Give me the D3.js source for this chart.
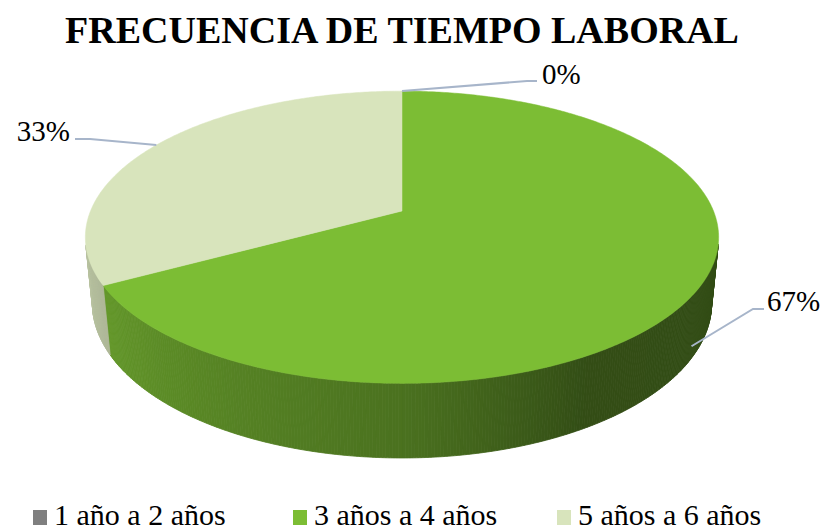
<!DOCTYPE html>
<html>
<head>
<meta charset="utf-8">
<script src="https://cdn.jsdelivr.net/npm/d3@7"></script>
<style>
  body { margin: 0; background: #fff; }
</style>
</head>
<body>
<div id="chart"></div>
<script>
// Data
const categories = ["1 año a 2 años", "3 años a 4 años", "5 años a 6 años"];
const values = [0, 67, 33];
const pctLabels = ["0%", "67%", "33%"];
const colors = ["#7f7f7f", "#7cbd34", "#d8e4bc"];

const width = 825, height = 532;
const fontSerif = "'Times New Roman', Times, Tinos, 'Liberation Serif', 'DejaVu Serif', 'Noto Serif', serif";

// 3D projection settings (disk radius 1)
const cx = 402, cy = 211, f = 1545, D = 4.96, tilt = 27 * Math.PI / 180, depthH = 0.24;
const s = Math.sin(tilt), c = Math.cos(tilt);

function proj(theta, y) {
    const X = Math.sin(theta), Z = -Math.cos(theta);
    const dep = D - y * s - Z * c;
    const sy = y * c - Z * s;
    return [cx + f * X / dep, cy - f * sy / dep];
}

const svg = d3.select("#chart")
    .append("svg")
    .attr("width", width)
    .attr("height", height)
    .style("font-family", fontSerif);

// Title
svg.append("text")
    .attr("x", 402)
    .attr("y", 43)
    .attr("text-anchor", "middle")
    .attr("font-size", 38)
    .attr("font-weight", "bold")
    .text("FRECUENCIA DE TIEMPO LABORAL");

const pie = d3.pie().sort(null).startAngle(0).endAngle(2 * Math.PI);
const arcs = pie(values).map((d, i) => ({ ...d, i }));

// side shading by angle
const shade = d3.scaleLinear()
    .domain([262, 180, 150, 100].map(a => a * Math.PI / 180))
    .range([0.87, 0.6, 0.41, 0.40])
    .clamp(true);

const sideG = svg.append("g");
const step = Math.PI / 360;
arcs.filter(d => d.value > 0).forEach(d => {
    for (let a = d.startAngle; a < d.endAngle - 1e-9; a += step) {
        const b = Math.min(a + step, d.endAngle);
        const m = (a + b) / 2;
        // only faces turned toward the viewer
        if (Math.cos(m) > -1 / (D * c)) continue;
        const pts = [proj(a, 0), proj(b, 0), proj(b, -depthH), proj(a, -depthH)];
        const col = d3.interpolateRgb("#000", colors[d.i])(shade(m));
        sideG.append("path")
            .attr("d", "M" + pts.join("L") + "Z")
            .attr("fill", col)
            .attr("stroke", col)
            .attr("stroke-width", 0.8);
    }
});

// Top faces
const topG = svg.append("g");
arcs.filter(d => d.value > 0).forEach(d => {
    const pts = [[cx, cy]];
    const n = Math.max(2, Math.ceil((d.endAngle - d.startAngle) / 0.01));
    for (let k = 0; k <= n; k++) {
        pts.push(proj(d.startAngle + (d.endAngle - d.startAngle) * k / n, 0));
    }
    topG.append("path")
        .attr("d", "M" + pts.join("L") + "Z")
        .attr("fill", colors[d.i])
        .attr("stroke", colors[d.i])
        .attr("stroke-width", 0.5);
});

// Data labels with leader lines
const labelLayout = [
    { elbow: [527, 81], end: [537, 81], tx: 542, ty: 84, anchor: "start" },
    { elbow: [753, 309], end: [764, 309], tx: 767, ty: 311, anchor: "start" },
    { elbow: [90, 139], end: [75, 139], tx: 70, ty: 141, anchor: "end" }
];

arcs.forEach(d => {
    const L = labelLayout[d.i];
    const mid = (d.startAngle + d.endAngle) / 2;
    const front = Math.cos(mid) < -0.3;
    const p0 = proj(mid, front ? -depthH * 0.8 : 0);
    svg.append("path")
        .attr("d", "M" + [p0, L.elbow, L.end].join("L"))
        .attr("fill", "none")
        .attr("stroke", "#a7b5ca")
        .attr("stroke-width", 2);
    svg.append("text")
        .attr("x", L.tx)
        .attr("y", L.ty)
        .attr("text-anchor", L.anchor)
        .attr("font-size", 29)
        .text(pctLabels[d.i]);
});

// Legend
const legendX = [33, 293, 557];
const legend = svg.append("g");
categories.forEach((name, i) => {
    legend.append("rect")
        .attr("x", legendX[i])
        .attr("y", 510)
        .attr("width", 14)
        .attr("height", 15)
        .attr("fill", colors[i]);
    legend.append("text")
        .attr("x", legendX[i] + 21)
        .attr("y", 525)
        .attr("font-size", 30)
        .text(name);
});
</script>
</body>
</html>
